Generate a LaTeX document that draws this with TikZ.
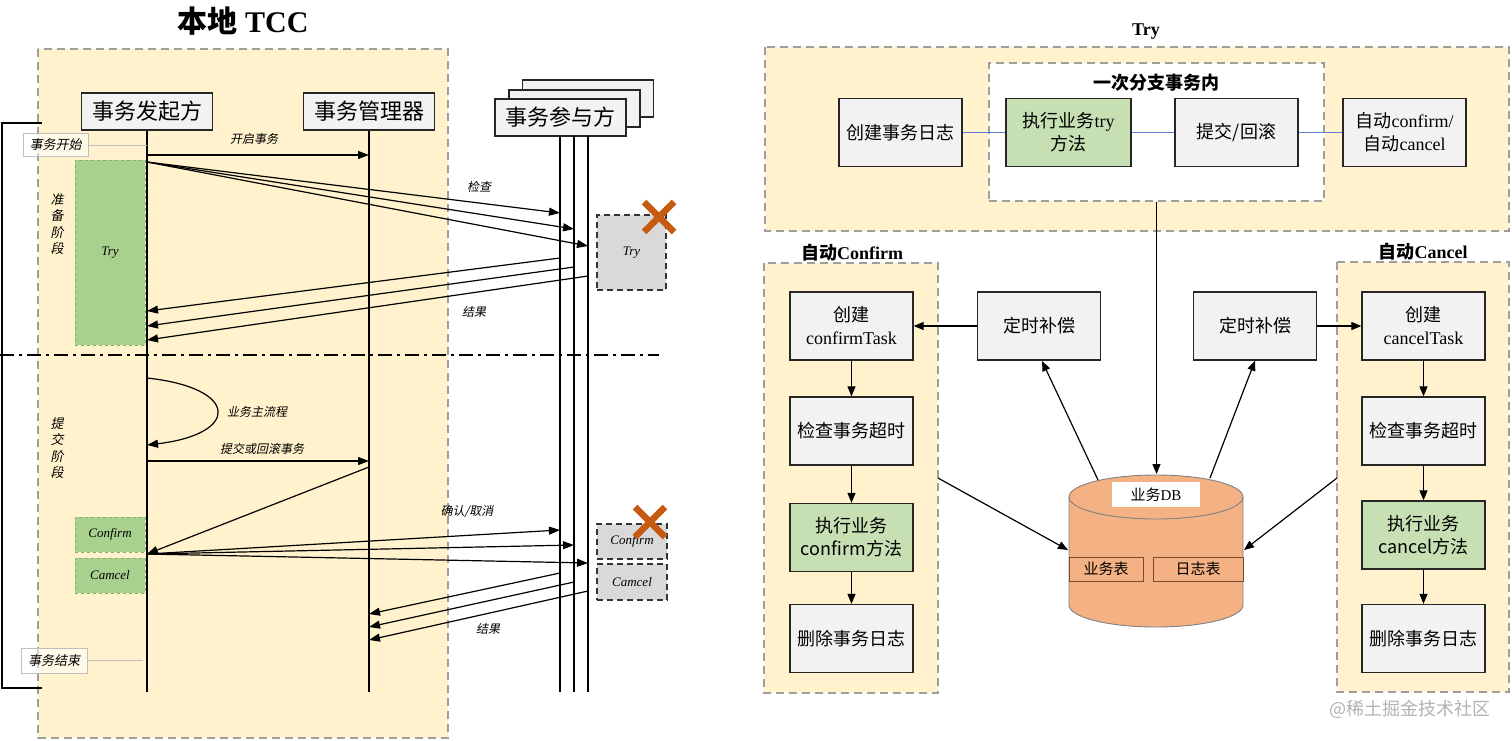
\documentclass[tikz,border=0pt]{standalone}
\usepackage{fontspec}
\setmainfont{Liberation Serif}
\newfontfamily\cjk{Noto Sans CJK SC}
\newfontfamily\cjki{Noto Sans CJK SC}[FakeSlant=0.2]
\usetikzlibrary{arrows.meta}
\newcommand\fsz[2]{\fontsize{#1}{#2}\selectfont}
\definecolor{creamc}{HTML}{FFF2CC}
\definecolor{dashgray}{HTML}{9E9E9E}
\definecolor{boxgray}{HTML}{F2F2F2}
\definecolor{lgreen}{HTML}{A9D18E}
\definecolor{rgreen}{HTML}{C6E0B4}
\definecolor{gborder}{HTML}{82B366}
\definecolor{trygray}{HTML}{D9D9D9}
\definecolor{xorange}{HTML}{C55A11}
\definecolor{dborange}{HTML}{F4B183}
\definecolor{linkblue}{HTML}{5A7FCC}
\definecolor{tblborder}{HTML}{7A4B2A}
\begin{document}
\begin{tikzpicture}[x=1pt,y=-1pt,
  creambox/.style={fill=creamc, draw=dashgray, line width=1.4pt, dash pattern=on 8pt off 5pt},
  hdr/.style={draw=black!85, fill=boxgray, line width=1.2pt, minimum width=131pt, minimum height=37pt, inner sep=0pt, font=\cjk\fsz{22}{26}},
  lbl/.style={font=\cjki\fsz{12}{14}, inner sep=1pt},
  phase/.style={font=\cjki\fsz{13}{16.3}, align=center, inner sep=0pt},
  gact/.style={fill=lgreen, draw=gborder, dashed, line width=0.6pt, inner sep=0pt, font=\itshape\fsz{13}{15}},
  pbox/.style={fill=trygray, draw=black!80, line width=1.2pt, dash pattern=on 6pt off 4pt, inner sep=0pt, font=\itshape\fsz{13}{15}},
  evtbox/.style={draw=black!25, fill=white, fill opacity=0.55, text opacity=1, font=\cjki\fsz{13}{15}, inner sep=0pt},
  sarr/.style={-{Triangle[length=11pt,width=8pt]}, line width=1.2pt},
  life/.style={line width=1.2pt},
  bx/.style={draw=black!85, fill=boxgray, line width=1.3pt, minimum width=123pt, minimum height=68pt, inner sep=0pt, align=center, font=\cjk\fsz{18}{23}},
  gbx/.style={bx, fill=rgreen},
  rarr/.style={-{Triangle[length=10pt,width=8pt]}, line width=1.2pt},
  bluelink/.style={draw=linkblue, line width=1pt},
  ttl/.style={font=\bfseries\fsz{18}{22}},
  xmk/.style={draw=xorange, line width=6.5pt},
  tbl/.style={draw=tblborder, fill=dborange, line width=0.8pt, minimum height=24pt, inner sep=0pt, font=\cjk\fsz{15}{18}}
]
\useasboundingbox (0,0) rectangle (1512,740);

%================ LEFT ================
\node[font=\bfseries\fsz{30}{34}] (title) at (243,21) {{\cjk\bfseries 本地} TCC};
\draw[creambox] (38,49) rectangle (448,738);
\draw[line width=1.2pt] (42,123) -- (2,123) -- (2,688) -- (42,688);

\node[hdr] (ini) at (147,111.5) {事务发起方};
\node[hdr] (mgr) at (369,111.5) {事务管理器};
\node[hdr] (p3) at (588,98.5) {};
\node[hdr] (p2) at (574.5,108.5) {};
\node[hdr] (par) at (560.5,117.5) {事务参与方};

% lifelines
\coordinate (iniE) at (147,692);
\coordinate (mgrE) at (369,692);
\coordinate (pa1) at (560,136); \coordinate (pa1E) at (560,692);
\coordinate (pa2) at (574,136); \coordinate (pa2E) at (574,692);
\coordinate (pa3) at (588,136); \coordinate (pa3E) at (588,692);
\draw[life] (ini.south) -- (iniE);
\draw[life] (mgr.south) -- (mgrE);
\draw[life] (pa1) -- (pa1E);
\draw[life] (pa2) -- (pa2E);
\draw[life] (pa3) -- (pa3E);

% events
\node[evtbox, minimum width=65pt, minimum height=23pt] (evs) at (55.5,145) {事务开始};
\coordinate (evsL) at (147,145);
\draw[black!25] (evs.east) -- (evsL);
\node[evtbox, minimum width=66pt, minimum height=25pt] (eve) at (54,660.5) {事务结束};
\coordinate (eveL) at (143,660.5);
\draw[black!25] (eve.east) -- (eveL);

% phases
\node[phase] (ph1) at (57,224) {准\\备\\阶\\段};
\node[phase] (ph2) at (57,448) {提\\交\\阶\\段};

% activation boxes
\node[gact, minimum width=70pt, minimum height=185pt] (gtry) at (110,252.5) {Try};
\node[gact, minimum width=70pt, minimum height=35pt] (gcf) at (110,534.5) {Confirm};
\node[gact, minimum width=70pt, minimum height=35pt] (gcc) at (110,575.5) {Camcel};

\node[pbox, minimum width=69pt, minimum height=75pt] (ptry) at (631.5,252.5) {Try};
\node[pbox, minimum width=70pt, minimum height=35pt] (pcf) at (632,541.5) {Confirm};
\node[pbox, minimum width=70pt, minimum height=36pt] (pcc) at (632,582) {Camcel};
\draw[xmk] (644,202) -- (674,232) (674,202) -- (644,232);
\draw[xmk] (635,507) -- (665,537) (665,507) -- (635,537);

% divider
\coordinate (divL) at (0,355); \coordinate (divR) at (659,355);
\draw[line width=1.2pt, dash pattern=on 14pt off 5pt on 3pt off 5pt] (divL) -- (divR);

% messages
\coordinate (m1s) at (147,155); \coordinate (m1e) at (369,155);
\draw[sarr] (m1s) -- (m1e);
\node[lbl] (l1) at (254,139) {开启事务};

\coordinate (f1) at (147,162);
\coordinate (f1a) at (560,213); \coordinate (f1b) at (574,229); \coordinate (f1c) at (588,246);
\draw[sarr] (f1) -- (f1a);
\draw[sarr] (f1) -- (f1b);
\draw[sarr] (f1) -- (f1c);
\node[lbl] (l2) at (479,187) {检查};

\coordinate (r1a) at (560,258); \coordinate (r1b) at (574,267); \coordinate (r1c) at (588,276);
\coordinate (r1A) at (147,311); \coordinate (r1B) at (147,326); \coordinate (r1C) at (147,340);
\draw[sarr] (r1a) -- (r1A);
\draw[sarr] (r1b) -- (r1B);
\draw[sarr] (r1c) -- (r1C);
\node[lbl] (l3) at (474,312) {结果};

\coordinate (lp1) at (147,378); \coordinate (lp2) at (147,445);
\draw[sarr] (lp1) .. controls (240,388) and (240,434) .. (lp2);
\node[lbl] (l4) at (257,412) {业务主流程};

\coordinate (m2s) at (147,461); \coordinate (m2e) at (369,461);
\draw[sarr] (m2s) -- (m2e);
\node[lbl] (l5) at (262,449) {提交或回滚事务};

\coordinate (m3s) at (369,467); \coordinate (m3e) at (147,554);
\draw[sarr] (m3s) -- (m3e);

\coordinate (f2) at (147,554);
\coordinate (f2a) at (560,530); \coordinate (f2b) at (574,545); \coordinate (f2c) at (588,563);
\draw[sarr] (f2) -- (f2a);
\draw[sarr] (f2) -- (f2b);
\draw[sarr] (f2) -- (f2c);
\node[lbl] (l6) at (467,512) {确认/取消};

\coordinate (r2a) at (560,573); \coordinate (r2b) at (574,582); \coordinate (r2c) at (588,591);
\coordinate (r2A) at (369,614); \coordinate (r2B) at (369,627); \coordinate (r2C) at (369,640);
\draw[sarr] (r2a) -- (r2A);
\draw[sarr] (r2b) -- (r2B);
\draw[sarr] (r2c) -- (r2C);
\node[lbl] (l7) at (488,629) {结果};

%================ RIGHT ================
\node[ttl] (trytl) at (1146,32) {Try};
\draw[creambox] (765,47) rectangle (1509,231);
\node[draw=dashgray, fill=white, line width=1.4pt, dash pattern=on 8pt off 5pt, minimum width=335pt, minimum height=138pt, inner sep=0pt] (inner) at (1156.5,132) {};
\node[font=\cjk\bfseries\fsz{18}{22}] (innert) at (1156,83) {一次分支事务内};

\node[bx] (cl) at (900.5,132.5) {创建事务日志};
\node[gbx, minimum width=125pt] (tr) at (1068.5,132.5) {执行业务{\rmfamily try}\\方法};
\node[bx] (sb) at (1236.5,132.5) {提交/回滚};
\node[bx] (ac) at (1404.5,132.5) {自动{\rmfamily confirm/}\\自动{\rmfamily cancel}};
\draw[bluelink] (cl) -- (tr);
\draw[bluelink] (tr) -- (sb);
\draw[bluelink] (sb) -- (ac);

% confirm column
\node[font=\cjk\bfseries\fsz{18}{22}] (cft) at (852,253) {自动{\rmfamily\bfseries Confirm}};
\draw[creambox] (764,263) rectangle (938,693);
\node[bx] (c1) at (851.5,326) {创建\\{\rmfamily confirmTask}};
\node[bx] (c2) at (851.5,431) {检查事务超时};
\node[gbx] (c3) at (851.5,537.5) {执行业务\\confirm方法};
\node[bx] (c4) at (851.5,638.5) {删除事务日志};
\draw[rarr] (c1) -- (c2);
\draw[rarr] (c2) -- (c3);
\draw[rarr] (c3) -- (c4);

% cancel column
\node[font=\cjk\bfseries\fsz{18}{22}] (cct) at (1423,252) {自动{\rmfamily\bfseries Cancel}};
\draw[creambox] (1337,262) rectangle (1509,692);
\node[bx] (k1) at (1423.5,326) {创建\\{\rmfamily cancelTask}};
\node[bx] (k2) at (1423.5,431) {检查事务超时};
\node[gbx] (k3) at (1423.5,535) {执行业务\\cancel方法};
\node[bx] (k4) at (1423.5,638.5) {删除事务日志};
\draw[rarr] (k1) -- (k2);
\draw[rarr] (k2) -- (k3);
\draw[rarr] (k3) -- (k4);

% compensation
\node[bx] (t1) at (1039,326) {定时补偿};
\node[bx] (t2) at (1255,326) {定时补偿};
\draw[rarr] (t1) -- (c1);
\draw[rarr] (t2) -- (k1);

% DB
\draw[fill=dborange, draw=black!50, line width=0.9pt] (1069,497) -- (1069,605) arc[start angle=180,end angle=0,x radius=87,y radius=22] -- (1243,497) arc[start angle=0,end angle=-180,x radius=87,y radius=22] -- cycle;
\draw[draw=black!50, line width=0.9pt] (1069,497) arc[start angle=180,end angle=0,x radius=87,y radius=22];
\node[fill=white, minimum width=88pt, minimum height=25pt, inner sep=0pt, font=\fsz{15}{18}] (dbl) at (1156,494.5) {{\cjk 业务}DB};
\node[tbl, minimum width=74pt] (tbiz) at (1106,569) {业务表};
\node[tbl, minimum width=90pt] (tlog) at (1198,569) {日志表};

\coordinate (dbT) at (1156.5,474);
\coordinate (dbL) at (1068,550);
\coordinate (dbR) at (1244,550);
\coordinate (dbA) at (1098,480);
\coordinate (dbB) at (1210,478);
\coordinate (t1b) at (1042,361);
\coordinate (cbE) at (938,478);
\coordinate (kbW) at (1337,478);
\draw[rarr] (inner.south) -- (dbT);
\draw[rarr] (dbA) -- (t1b);
\draw[rarr] (dbB) -- (t2.south);
\draw[rarr] (cbE) -- (dbL);
\draw[rarr] (kbW) -- (dbR);

\node[font=\cjk\fsz{18}{20}, text=black!30] (wm) at (1410,709) {@稀土掘金技术社区};
\end{tikzpicture}
\end{document}
